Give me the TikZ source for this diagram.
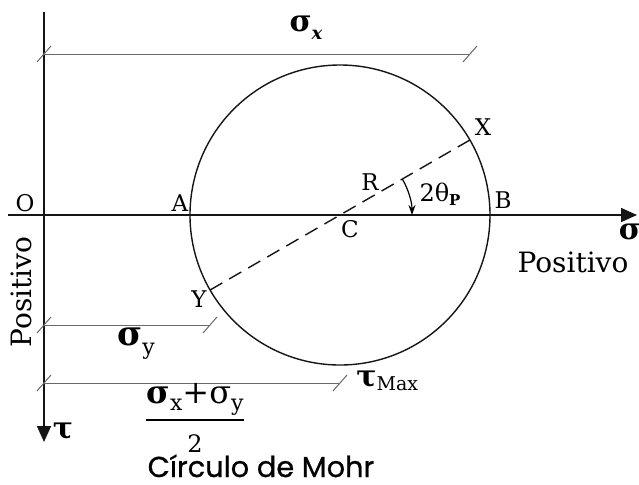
\documentclass[tikz,border=0pt]{standalone}
\usepackage{amsmath}
\usepackage{fontspec}
\setmainfont{DejaVu Serif}
\usepackage{tikz}
\usetikzlibrary{arrows.meta,positioning,calc}
\newfontfamily\mohrfont[FakeBold=0.8]{Poppins}
\definecolor{InkBlack}{HTML}{151515}
\definecolor{DimGray} {HTML}{6A6A6A}
\tikzset{
  axisline/.style={line width=0.8pt,color=InkBlack,
                   -{Triangle[length=8pt,width=7pt]}},
  mohrcirc/.style={line width=0.7pt,color=InkBlack},
  dimline/.style={line width=0.5pt,color=DimGray},
  dimtick/.style={line width=0.5pt,color=DimGray},
  ptlbl/.style={font=\fontsize{11.5}{13}\selectfont,inner sep=1pt},
  poslbl/.style={font=\fontsize{14}{16}\selectfont,inner sep=1pt},
  siglbl/.style={font=\fontsize{15}{18}\selectfont\bfseries,inner sep=1pt},
}

\begin{document}
\begin{tikzpicture}[x=0.5pt,y=-0.5pt]

  \useasboundingbox (0,0) rectangle (639,484);

  \coordinate (O)  at (44,215);
  \coordinate (C)  at (340,215);
  \coordinate (A)  at (190,215);
  \coordinate (B)  at (490,215);
  \coordinate (X)  at ($(C)+(-30:150)$);
  \coordinate (Y)  at ($(C)+(150:150)$);
  \coordinate (Tt) at (44,12);
  \coordinate (Tb) at (44,442);
  \coordinate (Sl) at (8,215);
  \coordinate (Sr) at (637,215);

  \coordinate (sxl) at (44,54);
  \coordinate (sxr) at (470,54);
  \coordinate (syl) at (44,325);
  \coordinate (syr) at (210,325);
  \coordinate (mdl) at (44,383);
  \coordinate (mdr) at (340,383);

  \draw[axisline] (Tt) -- (Tb);
  \draw[axisline] (Sl) -- (Sr);

  \draw[mohrcirc] (C) circle[radius=150];
  \draw[mohrcirc,dash pattern=on 7pt off 4pt] (Y) -- (X);
  \draw[line width=0.6pt,-{Stealth[length=5pt,width=3.5pt]}]
    ([shift={(-30:72)}]C) arc[start angle=-30,end angle=0,radius=72];

  \draw[dimline] (sxl) -- (sxr);
  \draw[dimline] (syl) -- (syr);
  \draw[dimline] (mdl) -- (mdr);
  \foreach \p in {sxl,sxr,syl,syr,mdl,mdr}
    \draw[dimtick] (\p) ++(-7,8) -- ++(14,-16);

  \node[ptlbl] (lO) at (25,203)  {O};
  \node[ptlbl] (lA) at (180,203) {A};
  \node[ptlbl] (lB) at (503,200) {B};
  \node[ptlbl] (lC) at (350,229) {C};
  \node[ptlbl] (lX) at (483,127) {X};
  \node[ptlbl] (lY) at (199,299) {Y};
  \node[ptlbl] (lR) at (370,182) {R};
  \node[ptlbl,font=\fontsize{12}{14}\selectfont] (lth) at (440,194)
    {2θ\raisebox{-0.3ex}{\fontsize{7.5}{8}\selectfont\bfseries P}};

  \node[siglbl] (lsx) at (306,28) {σ\raisebox{-0.5ex}{\fontsize{9}{10}\selectfont\itshape x}};
  \node[siglbl,font=\fontsize{17}{20}\selectfont\bfseries] (lsy) at (136,344)
    {σ\raisebox{-0.5ex}{\fontsize{11}{12}\selectfont\mdseries y}};
  \node[siglbl,inner sep=0pt,font=\fontsize{16}{19}\selectfont\bfseries] (lmd) at (195,418)
    {$\dfrac{\text{σ\raisebox{-0.4ex}{\fontsize{11}{12}\selectfont\mdseries x}%
      \mdseries+σ\raisebox{-0.4ex}{\fontsize{11}{12}\selectfont\mdseries y}}}%
      {\text{\mdseries\fontsize{12}{14}\selectfont 2}}$};
  \node[siglbl,anchor=west] (ltm) at (354,381)
    {τ\raisebox{-0.3ex}{\fontsize{9.5}{10}\selectfont\mdseries Max}};
  \node[siglbl] (lsig) at (630,232) {σ};
  \node[siglbl] (ltau) at (63,431)  {τ};

  \node[poslbl] (lph) at (573,262) {Positivo};
  \node[poslbl,rotate=90] (lpv) at (21,292) {Positivo};

  \node[font=\mohrfont\fontsize{14.4}{17}\selectfont,anchor=base,inner sep=0pt]
    (ttl) at (261,477) {Círculo de Mohr};

\end{tikzpicture}
\end{document}
